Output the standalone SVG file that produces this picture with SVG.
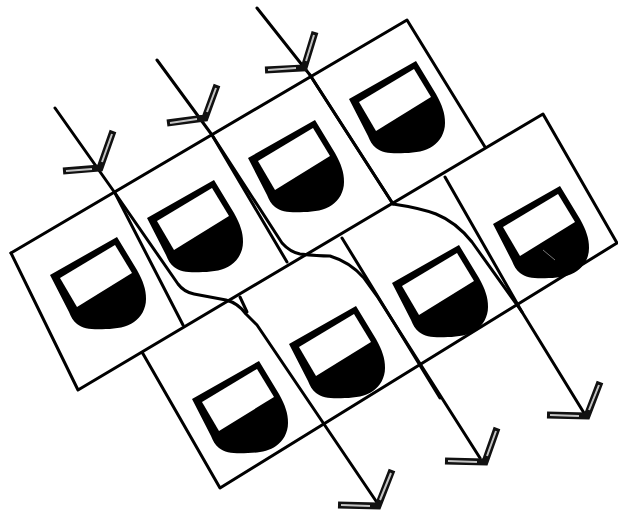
<svg xmlns="http://www.w3.org/2000/svg" width="618" height="517" viewBox="0 0 618 517">
<style>
.l{fill:none;stroke:#000;stroke-width:3;stroke-linecap:round;stroke-linejoin:round}
.ao{fill:none;stroke:#111;stroke-width:7;stroke-linejoin:miter;stroke-linecap:butt}
.ai{fill:none;stroke:#c4c4c4;stroke-width:2;stroke-linecap:butt}
</style>
<defs>
<g id="shield">
<path d="M0 0L67-38L87-5C93 6 96 14 96 24C96 34 91 42 84 47C77 52 66 54 56 54C44 55 33 54 27 49C23 46 21 42 19 37Z" fill="#000"/>
<path d="M10 3L65-30L82-2L27 32Z" fill="#fff"/>
</g>
</defs>
<rect width="618" height="517" fill="#fff"/>
<g id="frames">
<path class="l" d="M11 253L407 20L485 147"/>
<path class="l" d="M11 253L78 390L543 114L617 243L220 488L142 352"/>
<path class="l" d="M115 193L183 325"/>
<path class="l" d="M212 135L287 262"/>
<path class="l" d="M310 75L393 204"/>
<path class="l" d="M240 297L247 312"/>
<path class="l" d="M342 238L440 398"/>
<path class="l" d="M445 177L522 312"/>
</g>
<g id="node-1"><use href="#shield" x="50" y="275"/></g>
<g id="node-2"><use href="#shield" x="147" y="218"/></g>
<g id="node-3"><use href="#shield" x="248" y="158"/></g>
<g id="node-4"><use href="#shield" x="349" y="99"/></g>
<g id="node-5"><use href="#shield" x="192" y="399"/></g>
<g id="node-6"><use href="#shield" x="289" y="344"/></g>
<g id="node-7"><use href="#shield" x="392" y="283"/></g>
<g id="node-8"><use href="#shield" x="493" y="224"/><path d="M543 250L555 260" stroke="#777" stroke-width="1" fill="none"/></g>
<g id="connectors">
<path class="l" d="M55 108L115 193L178 284Q184 292 194 294L226 300Q238 303 246 314L257 325L378 504"/>
<path class="l" d="M157 60L212 135L282 243Q290 252 300 254Q318 256 330 256Q350 262 364 278L377 296L480 458"/>
<path class="l" d="M257 8L310 75L393 204Q420 208 436 214Q456 222 472 242L522 312L584 413"/>
<path class="ao" d="M113 131L100 168L63 171"/><path class="ai" d="M112 134L102 162M66 171L92 169"/>
<path class="ao" d="M217 85L205 118L167 123"/><path class="ai" d="M216 88L207 112M170 123L197 119"/>
<path class="ao" d="M315 32L304 68L265 70"/><path class="ai" d="M314 35L306 61M268 70L296 68"/>
<path class="ao" d="M392 470L378 506L338 505"/><path class="ai" d="M391 473L380 500M341 505L370 506"/>
<path class="ao" d="M497 428L485 462L445 461"/><path class="ai" d="M496 431L487 456M448 461L477 462"/>
<path class="ao" d="M600 382L587 416L547 415"/><path class="ai" d="M599 385L589 410M550 415L579 416"/>
</g>
</svg>
